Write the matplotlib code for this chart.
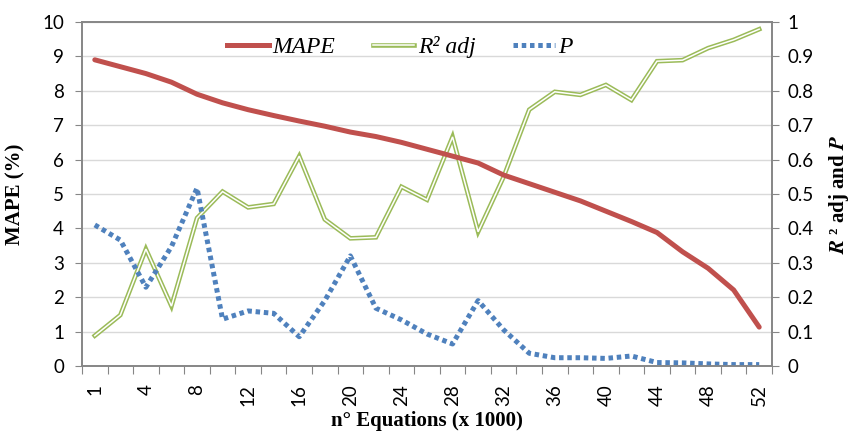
import matplotlib
matplotlib.use("Agg")
import matplotlib.pyplot as plt
from matplotlib.lines import Line2D
from matplotlib.legend_handler import HandlerTuple
import numpy as np

plt.rcParams['mathtext.fontset'] = 'stix'

categories = [1, 2] + list(range(4, 53, 2))
mape = [8.9, 8.7, 8.5, 8.25, 7.9, 7.65, 7.45, 7.28, 7.12, 6.97, 6.8, 6.67, 6.5, 6.3,
        6.1, 5.9, 5.55, 5.3, 5.05, 4.8, 4.5, 4.2, 3.88, 3.32, 2.84, 2.21, 1.13]
r2adj = [0.088, 0.148, 0.34, 0.174, 0.43, 0.507, 0.461, 0.471, 0.61, 0.426, 0.371, 0.374,
         0.521, 0.483, 0.666, 0.39, 0.55, 0.745, 0.797, 0.788, 0.817, 0.773, 0.886, 0.889,
         0.924, 0.948, 0.979]
p_vals = [0.41, 0.366, 0.229, 0.347, 0.517, 0.136, 0.16, 0.153, 0.085, 0.19, 0.32, 0.168,
          0.134, 0.093, 0.064, 0.19, 0.105, 0.037, 0.024, 0.024, 0.022, 0.029, 0.01, 0.009,
          0.006, 0.004, 0.004]
left_ticks = list(range(0, 11))
right_ticks = [0, 0.1, 0.2, 0.3, 0.4, 0.5, 0.6, 0.7, 0.8, 0.9, 1]

red = '#C0504D'
green = '#9BBB59'
blue = '#4F81BD'
spine_c = '#868686'
tick_font = 'Lato'

fig = plt.figure(figsize=(8.57, 4.36), dpi=100)
ax = fig.add_axes([0.0957, 0.1606, 0.8051, 0.789])
ax2 = ax.twinx()

x = np.arange(len(categories))

ax.set_xlim(-0.5, len(categories) - 0.5)
ax.set_ylim(0, 10)
ax2.set_ylim(0, 1)

for yv in left_ticks[1:]:
    ax.axhline(yv, color='#D9D9D9', lw=1, zorder=0)

l_mape, = ax2.plot(x, np.array(mape) / 10.0, color=red, lw=3.6, solid_capstyle='round', zorder=3)
l_r2o, = ax2.plot(x, r2adj, color=green, lw=3.3, zorder=2, solid_joinstyle='miter')
l_r2i, = ax2.plot(x, r2adj, color='white', lw=1.1, zorder=2.1, solid_joinstyle='miter')
l_p, = ax2.plot(x, p_vals, color=blue, lw=3.6, linestyle=(0, (0.9, 0.75)), zorder=2.5)

ax.set_yticks(left_ticks)
ax.set_yticklabels([str(t) for t in left_ticks], fontfamily=tick_font, fontsize=13.5)
ax2.set_yticks(right_ticks)
ax2.set_yticklabels(['0'] + [f'{t:.1f}' for t in right_ticks[1:-1]] + ['1'],
                    fontfamily=tick_font, fontsize=13.5)

ax.set_xticks(np.arange(-0.5, len(categories), 1.0))
ax.set_xticklabels([])
ax.set_xticks(x[::2], minor=True)
ax.set_xticklabels([str(c) for c in categories[::2]], minor=True, rotation=90,
                   fontfamily=tick_font, fontsize=13.5)
ax.tick_params(axis='x', which='major', length=6, color=spine_c, direction='out')
ax.tick_params(axis='x', which='minor', length=0, pad=13)
ax.tick_params(axis='y', length=5, color=spine_c, pad=8)
ax2.tick_params(axis='y', length=5, color=spine_c, pad=6)

for a in (ax, ax2):
    for s in a.spines.values():
        s.set_color(spine_c)
        s.set_linewidth(1.2)

ax.set_ylabel('MAPE (%)', fontfamily='Liberation Serif', fontweight='bold', fontsize=15, labelpad=12)
ax2.set_ylabel(r'$\mathbfit{R}$ ² adj and $\mathbfit{P}$', fontfamily='Liberation Serif',
               fontweight='bold', fontsize=15, rotation=90, labelpad=10)
ax.set_xlabel('n° Equations (x 1000)', fontfamily='Liberation Serif', fontweight='bold',
              fontsize=15, labelpad=4)

h_r2 = (Line2D([], [], color=green, lw=3.3), Line2D([], [], color='white', lw=1.1))
h_p = Line2D([], [], color=blue, lw=3.6, linestyle=(0, (0.9, 0.75)))
h_m = Line2D([], [], color=red, lw=3.6)
leg = ax2.legend([h_m, h_r2, h_p], ['MAPE', 'R² adj', 'P'],
                 handler_map={tuple: HandlerTuple(ndivide=1, pad=0)},
                 loc='center left', bbox_to_anchor=(0.18, 0.927), ncol=3, frameon=False,
                 prop={'family': 'Liberation Serif', 'style': 'italic', 'size': 17},
                 handlelength=1.75, handletextpad=0.15, columnspacing=1.6)

fig.savefig('out.png', dpi=100)
